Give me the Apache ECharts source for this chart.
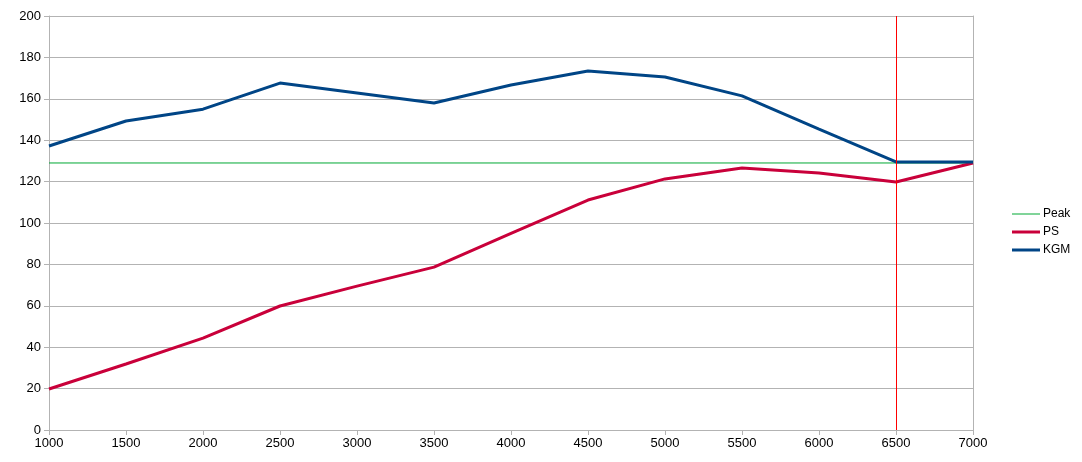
<!DOCTYPE html>
<html>
<head>
<meta charset="utf-8">
<script src="https://cdn.jsdelivr.net/npm/echarts@6/dist/echarts.min.js"></script>
<style>
html,body{margin:0;padding:0;background:#fff;}
#chart{width:1082px;height:462px;}
</style>
</head>
<body>
<div id="chart"></div>
<script>
const rpm = [1000,1500,2000,2500,3000,3500,4000,4500,5000,5500,6000,6500,7000];
const psValues = [19.8,31.9,44.4,59.9,69.5,78.7,95,111.1,121.3,126.6,124.2,119.8,129];
const kgmValues = [137.2,149.3,155,167.6,162.8,158,166.7,173.4,170.5,161.4,145.4,129.5,129.5];
const peakValue = 129;
const peakRpm = 6500;
const yTicks = {min:0, max:200, interval:20};
const xTicks = {min:1000, max:7000, interval:500};

const zip = (xs, ys) => xs.map((x,i)=>[x, ys[i]]);
const font = 'Liberation Sans, Arial, sans-serif';

const chart = echarts.init(document.getElementById('chart'), null, {renderer:'canvas'});
chart.setOption({
  animation:false,
  backgroundColor:'#fff',
  grid:{left:49, right:109, top:16, bottom:32, containLabel:false},
  legend:{
    orient:'vertical', left:1007, top:203,
    itemWidth:28, itemHeight:3, itemGap:6,
    textStyle:{fontFamily:font, fontSize:12, color:'#000', padding:[0,0,0,-2]},
    data:[
      {name:'Peak', icon:'path://M0,0H28V1H0Z', itemStyle:{color:'#00a933'}},
      {name:'PS', icon:'path://M0,0H28V3H0Z', itemStyle:{color:'#c9003a'}},
      {name:'KGM', icon:'path://M0,0H28V3H0Z', itemStyle:{color:'#004586'}}
    ]
  },
  xAxis:{
    type:'value', min:xTicks.min, max:xTicks.max, interval:xTicks.interval,
    axisLine:{show:true, onZero:false, lineStyle:{color:'#b3b3b3', width:1}},
    axisTick:{show:true, length:5, lineStyle:{color:'#b3b3b3'}},
    axisLabel:{color:'#000', fontFamily:font, fontSize:13, margin:7, formatter:v=>String(v)},
    splitLine:{show:false}
  },
  yAxis:[{
    type:'value', min:yTicks.min, max:yTicks.max, interval:yTicks.interval,
    axisLine:{show:true, lineStyle:{color:'#b3b3b3', width:1}},
    axisTick:{show:true, length:5, lineStyle:{color:'#b3b3b3'}},
    axisLabel:{color:'#000', fontFamily:font, fontSize:13, margin:8},
    splitLine:{show:true, lineStyle:{color:'#b3b3b3', width:1}}
  },{
    type:'value', position:'right', min:yTicks.min, max:yTicks.max, interval:yTicks.interval,
    axisLine:{show:true, lineStyle:{color:'#b3b3b3', width:1}},
    axisTick:{show:false}, axisLabel:{show:false}, splitLine:{show:false}
  }],
  series:[
    {
      name:'Peak', type:'line', showSymbol:false, symbol:'none',
      data:[[xTicks.min, peakValue],[xTicks.max, peakValue]],
      lineStyle:{color:'#00a933', width:1}, itemStyle:{color:'#00a933'},
      z:2
    },
    {
      name:'PS', type:'line', showSymbol:false, symbol:'none',
      data:zip(rpm, psValues),
      lineStyle:{color:'#c9003a', width:3}, itemStyle:{color:'#c9003a'},
      z:3
    },
    {
      name:'KGM', type:'line', showSymbol:false, symbol:'none',
      data:zip(rpm, kgmValues),
      lineStyle:{color:'#004586', width:3}, itemStyle:{color:'#004586'},
      z:4,
      markLine:{
        silent:true, symbol:['none','none'], label:{show:false},
        lineStyle:{color:'#ff0000', width:1, type:'solid'},
        data:[{xAxis:peakRpm}],
        z:5
      }
    }
  ]
});
</script>
</body>
</html>
